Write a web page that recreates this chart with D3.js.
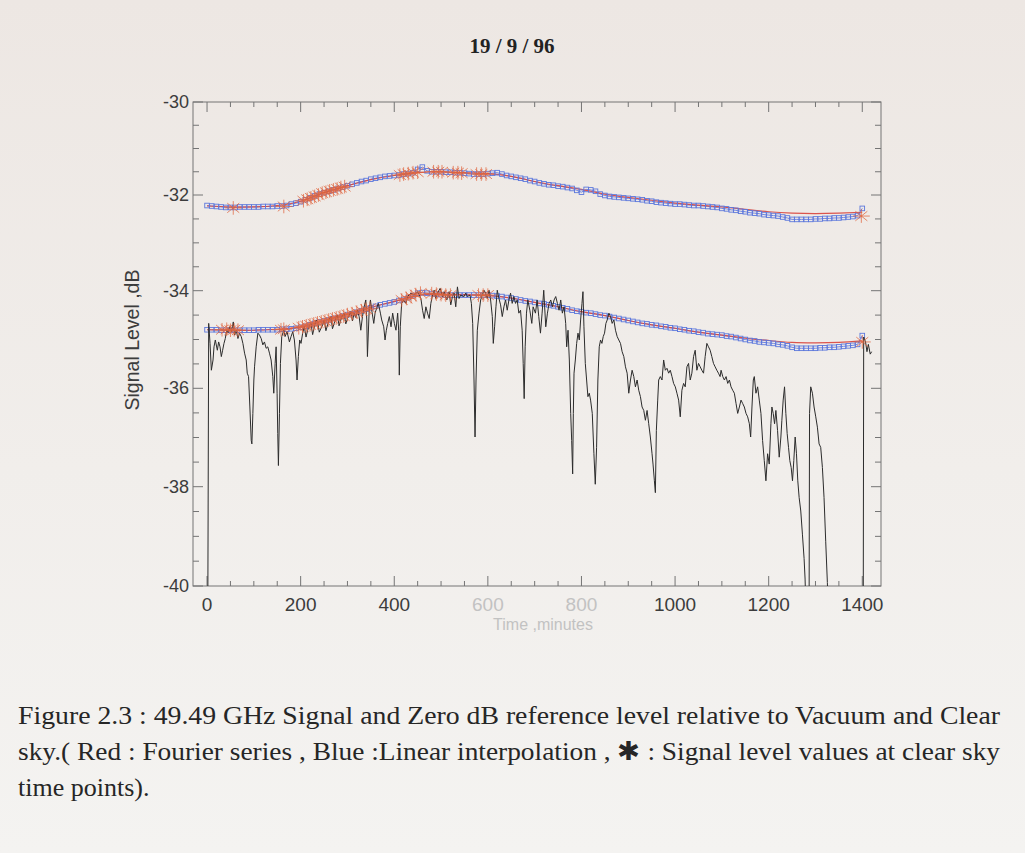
<!DOCTYPE html>
<html>
<head>
<meta charset="utf-8">
<script src="https://cdn.jsdelivr.net/npm/d3@7"></script>
<style>
  html, body { margin: 0; padding: 0; background: #f1eeeb; }
  svg { display: block; }
</style>
</head>
<body>
<div id="chart"></div>
<script>
// ---- data ----
// reference levels, sampled every 10 minutes (blue squares / linear interpolation)
const refTimes = d3.range(0, 1401, 10);
const upperRef = [
  -32.22,-32.23,-32.24,-32.25,-32.26,-32.26,-32.26,-32.25,-32.25,-32.25,
  -32.25,-32.25,-32.24,-32.24,-32.24,-32.23,-32.23,-32.22,-32.19,-32.17,
  -32.14,-32.10,-32.06,-32.02,-31.98,-31.95,-31.92,-31.89,-31.86,-31.83,
  -31.80,-31.77,-31.74,-31.71,-31.69,-31.66,-31.64,-31.62,-31.60,-31.59,
  -31.58,-31.57,-31.55,-31.54,-31.52,-31.45,-31.40,-31.48,-31.50,-31.50,
  -31.50,-31.51,-31.51,-31.52,-31.52,-31.53,-31.54,-31.55,-31.55,-31.55,
  -31.54,-31.53,-31.52,-31.55,-31.58,-31.60,-31.62,-31.64,-31.66,-31.69,
  -31.71,-31.74,-31.76,-31.78,-31.79,-31.81,-31.82,-31.84,-31.86,-31.90,
  -31.94,-31.88,-31.89,-31.92,-31.98,-32.01,-32.03,-32.04,-32.05,-32.06,
  -32.07,-32.08,-32.09,-32.10,-32.12,-32.13,-32.15,-32.16,-32.17,-32.18,
  -32.19,-32.19,-32.20,-32.21,-32.22,-32.22,-32.23,-32.24,-32.25,-32.26,
  -32.28,-32.29,-32.31,-32.32,-32.34,-32.35,-32.37,-32.38,-32.39,-32.41,
  -32.42,-32.43,-32.44,-32.46,-32.48,-32.51,-32.51,-32.51,-32.51,-32.51,
  -32.50,-32.50,-32.49,-32.49,-32.48,-32.48,-32.47,-32.46,-32.45,-32.43,
  -32.28
];
const lowerRef = [
  -34.80,-34.80,-34.80,-34.81,-34.81,-34.81,-34.81,-34.81,-34.81,-34.81,
  -34.81,-34.80,-34.80,-34.80,-34.80,-34.80,-34.79,-34.79,-34.78,-34.77,
  -34.75,-34.73,-34.70,-34.67,-34.64,-34.62,-34.60,-34.57,-34.55,-34.52,
  -34.49,-34.47,-34.44,-34.41,-34.38,-34.35,-34.32,-34.29,-34.27,-34.25,
  -34.23,-34.20,-34.18,-34.14,-34.10,-34.05,-34.04,-34.05,-34.06,-34.07,
  -34.08,-34.09,-34.09,-34.09,-34.09,-34.09,-34.09,-34.09,-34.09,-34.09,
  -34.09,-34.10,-34.11,-34.12,-34.14,-34.15,-34.17,-34.19,-34.21,-34.22,
  -34.24,-34.26,-34.27,-34.29,-34.31,-34.33,-34.35,-34.37,-34.40,-34.42,
  -34.43,-34.45,-34.46,-34.48,-34.50,-34.51,-34.53,-34.55,-34.57,-34.59,
  -34.61,-34.63,-34.65,-34.67,-34.68,-34.70,-34.71,-34.73,-34.74,-34.76,
  -34.77,-34.79,-34.80,-34.82,-34.83,-34.85,-34.86,-34.88,-34.89,-34.90,
  -34.91,-34.93,-34.94,-34.96,-34.98,-35.00,-35.02,-35.03,-35.05,-35.06,
  -35.07,-35.08,-35.10,-35.11,-35.13,-35.16,-35.18,-35.18,-35.18,-35.18,
  -35.18,-35.17,-35.17,-35.16,-35.16,-35.15,-35.14,-35.13,-35.12,-35.10,
  -34.92
];

// Fourier series fits (red), every 50 minutes
const fitTimes = [0,50,100,150,200,250,300,350,400,450,500,550,600,650,700,
  750,800,850,900,950,1000,1050,1100,1150,1200,1250,1300,1350,1400];
const upperFit = [-32.23,-32.25,-32.25,-32.22,-32.13,-31.95,-31.80,-31.67,-31.58,
  -31.52,-31.50,-31.52,-31.54,-31.60,-31.71,-31.80,-31.88,-31.98,-32.05,-32.11,
  -32.17,-32.21,-32.25,-32.30,-32.35,-32.38,-32.39,-32.38,-32.36];
const lowerFit = [-34.80,-34.81,-34.81,-34.79,-34.74,-34.61,-34.48,-34.34,-34.22,
  -34.10,-34.07,-34.08,-34.10,-34.15,-34.24,-34.33,-34.43,-34.51,-34.61,-34.70,
  -34.77,-34.85,-34.91,-34.97,-35.02,-35.06,-35.07,-35.06,-35.03];

// signal level values at clear sky time points (asterisks)
const upperStars = [[56,-32.27],[164,-32.24],[206,-32.12],[214,-32.09],[222,-32.06],
  [230,-32.03],[238,-32.00],[246,-31.96],[254,-31.94],[262,-31.91],[270,-31.89],
  [278,-31.87],[286,-31.84],[294,-31.82],[412,-31.57],[420,-31.55],[430,-31.54],
  [440,-31.52],[450,-31.51],[484,-31.50],[494,-31.50],[502,-31.50],[526,-31.52],
  [536,-31.52],[544,-31.53],[576,-31.55],[586,-31.55],[596,-31.55],[1398,-32.44]];
const lowerStars = [[32,-34.80],[42,-34.79],[50,-34.81],[58,-34.80],[66,-34.81],
  [158,-34.80],[164,-34.79],[196,-34.76],[204,-34.74],[212,-34.72],[220,-34.70],
  [228,-34.68],[236,-34.66],[244,-34.64],[252,-34.62],[260,-34.60],[268,-34.58],
  [276,-34.56],[284,-34.54],[292,-34.52],[300,-34.49],[310,-34.47],[320,-34.44],
  [330,-34.41],[340,-34.38],[348,-34.36],[416,-34.19],[426,-34.16],[436,-34.12],
  [446,-34.08],[456,-34.05],[480,-34.06],[490,-34.07],[500,-34.08],[510,-34.09],
  [520,-34.09],[580,-34.09],[590,-34.09],[600,-34.09],[1400,-35.05]];

// 49.49 GHz signal (black)
const sigT = [1.5,3.5,6.4,9.2,12.8,14.9,17.7,22.0,24.8,27.7,30.5,33.3,36.2,39.0,41.9,
  44.7,48.2,51.8,56.1,58.9,62.4,66.0,69.5,73.1,76.6,80.2,83.7,85.9,88.7,91.5,94.4,
  95.8,97.9,100.0,101.5,105.0,108.6,112.1,115.7,119.2,122.7,126.3,129.8,133.4,136.9,
  140.5,142.6,145.5,147.6,149.7,151.1,152.5,154.7,156.8,159.6,163.9,166.7,171.0,
  176.0,179.5,183.1,186.6,190.2,192.3,195.1,198.0,200.8,204.3,207.9,211.5,215.0,
  218.6,222.1,225.6,229.2,232.7,236.3,239.8,243.4,247.0,250.5,254.0,257.6,261.0,
  264.6,268.0,271.7,275.0,278.8,282.0,285.9,289.0,293.0,296.5,300.1,303.6,307.2,
  310.7,314.3,318.0,321.4,325.0,328.5,332.1,335.6,339.2,341.3,342.7,346.2,349.1,
  351.9,356.2,359.0,363.3,366.1,370.4,373.2,377.5,380.3,383.1,386.0,389.5,393.1,
  396.6,400.2,403.7,407.3,409.4,410.8,412.9,415.8,420.0,425.0,428.5,435.6,442.7,
  449.8,456.9,460.5,464.0,467.6,471.1,474.7,478.2,481.8,485.3,488.9,492.4,498.1,
  503.0,506.6,512.3,517.2,520.8,524.3,527.9,531.4,535.0,538.5,542.1,549.2,552.7,
  556.3,561.9,564.8,567.6,570.4,572.6,574.7,577.5,581.1,584.6,588.2,591.7,595.3,
  598.8,602.4,605.9,609.5,611.6,614.4,617.3,620.1,623.7,627.2,630.8,634.3,637.8,
  641.4,645.0,648.5,652.0,655.6,659.1,662.7,666.2,669.8,673.3,675.5,677.6,679.7,
  682.5,685.4,689.7,693.9,696.7,701.7,705.3,708.8,712.4,715.9,719.4,723.7,727.3,
  730.8,734.4,737.9,741.5,745.0,748.6,752.1,755.7,759.2,762.8,766.3,768.4,771.3,
  774.1,777.0,779.1,781.2,782.6,784.1,786.9,789.7,792.6,795.4,798.2,801.1,803.2,
  805.3,808.2,811.0,813.8,816.7,819.5,823.1,826.6,829.5,832.3,835.1,838.0,840.8,
  843.7,846.5,849.3,852.2,855.0,858.6,862.1,865.6,869.2,872.7,876.3,879.8,883.4,
  886.9,890.5,894.0,897.6,901.1,904.7,908.2,911.8,915.3,918.9,922.4,926.0,929.5,
  933.1,936.6,940.2,943.7,947.2,950.8,952.9,955.8,957.9,960.0,962.9,965.0,968.5,
  972.1,975.6,979.2,982.7,986.3,989.8,993.4,996.9,1000.5,1004.0,1007.6,1011.1,
  1014.6,1018.2,1021.7,1025.3,1028.8,1032.4,1035.9,1039.5,1043.0,1046.6,1050.1,
  1053.7,1057.2,1060.8,1064.3,1067.9,1071.4,1075.0,1078.5,1082.1,1085.6,1089.2,
  1092.7,1096.2,1098.3,1101.9,1105.4,1109.0,1112.5,1116.1,1119.6,1123.2,1126.7,
  1130.3,1133.8,1137.4,1140.9,1144.5,1148.0,1151.6,1155.1,1158.7,1161.5,1164.3,
  1167.2,1169.3,1172.8,1176.4,1179.9,1183.5,1187.0,1190.6,1194.1,1197.7,1201.2,
  1204.8,1206.9,1209.7,1212.6,1215.4,1219.0,1222.5,1226.1,1228.2,1231.0,1233.9,
  1236.7,1239.5,1242.4,1245.2,1248.1,1250.9,1253.7,1256.6,1259.4,1262.2,1265.1,
  1268.6,1272.2,1275.7,1277.8,1279.2,1286.4,1287.3,1289.9,1293.5,1297.0,1300.6,
  1304.1,1307.7,1311.2,1314.8,1318.3,1321.9,1325.4,1326.8,1402.0,1403.0,1407.0,
  1410.0,1413.0,1417.0,1420.0];
const sigV = [-41,-34.67,-35.08,-35.63,-35.42,-35.15,-35.01,-35.22,-35.05,-35.15,-35.35,
  -35.22,-35.08,-34.98,-34.81,-34.87,-34.74,-34.84,-34.64,-34.91,-34.81,-34.98,-34.87,
  -34.94,-35.08,-35.28,-35.42,-35.69,-35.76,-36.38,-37.06,-37.13,-36.51,-35.83,-35.56,
  -35.15,-34.87,-34.91,-34.98,-35.11,-35.05,-35.18,-35.15,-35.28,-35.42,-35.76,-36.10,
  -35.49,-35.15,-36.10,-36.92,-37.57,-36.51,-35.49,-34.94,-34.81,-34.94,-34.84,-35.05,
  -34.94,-34.84,-35.01,-35.42,-35.83,-35.35,-35.01,-35.08,-34.87,-34.74,-34.95,-34.81,
  -34.72,-34.67,-34.90,-34.74,-34.60,-34.64,-34.85,-34.77,-34.70,-34.60,-34.82,-34.70,
  -34.58,-34.53,-34.78,-34.67,-34.55,-34.50,-34.72,-34.60,-34.52,-34.46,-34.68,-34.57,
  -34.50,-34.43,-34.62,-34.46,-34.55,-34.40,-34.53,-34.81,-34.53,-34.33,-34.19,-34.60,
  -35.35,-34.46,-34.19,-34.40,-34.67,-34.46,-34.33,-34.26,-34.46,-34.60,-34.74,-35.01,
  -34.81,-34.67,-34.53,-34.74,-34.46,-34.67,-34.81,-34.46,-34.81,-35.73,-34.74,-34.26,
  -34.19,-34.26,-34.12,-34.05,-34.09,-34.02,-34.16,-34.40,-34.57,-34.33,-34.46,-34.57,
  -34.26,-34.09,-33.99,-34.16,-34.05,-33.95,-34.12,-34.02,-34.19,-34.02,-34.29,-34.12,
  -34.05,-34.33,-33.92,-34.16,-34.09,-34.12,-34.05,-34.12,-34.09,-34.26,-34.67,-35.83,
  -36.99,-35.83,-34.81,-34.46,-34.19,-34.09,-33.99,-34.05,-34.16,-33.99,-34.19,-34.53,
  -35.08,-34.74,-34.33,-33.99,-34.16,-34.29,-34.53,-34.33,-34.19,-34.40,-34.19,-34.05,
  -34.26,-34.12,-34.26,-34.19,-34.46,-34.40,-34.81,-35.49,-36.21,-35.15,-34.46,-34.19,
  -34.40,-34.67,-34.33,-34.46,-34.19,-34.53,-34.87,-34.46,-33.99,-34.74,-34.46,-34.26,
  -34.19,-34.33,-34.19,-34.12,-34.26,-34.40,-34.19,-34.46,-34.33,-34.67,-35.15,-34.81,
  -35.42,-36.51,-37.06,-37.74,-36.51,-35.69,-35.42,-35.08,-34.87,-35.01,-34.60,-34.26,
  -34.02,-34.74,-35.49,-35.83,-36.17,-36.10,-36.24,-36.51,-37.33,-37.95,-37.20,-35.83,
  -35.15,-35.01,-35.08,-34.94,-34.87,-34.67,-34.60,-34.46,-34.53,-34.67,-34.60,-34.81,
  -34.94,-35.01,-35.08,-35.25,-35.35,-35.56,-35.69,-36.10,-35.83,-35.63,-35.76,-35.97,
  -35.83,-36.04,-36.17,-36.38,-36.45,-36.65,-36.45,-36.72,-36.99,-37.33,-37.54,-37.88,
  -38.12,-36.86,-36.24,-35.83,-35.76,-35.83,-35.42,-35.63,-35.59,-35.69,-35.63,-35.76,
  -35.90,-35.97,-36.10,-36.24,-36.58,-36.04,-35.90,-35.97,-35.56,-35.49,-35.83,-35.69,
  -35.35,-35.22,-35.63,-35.49,-35.56,-35.63,-35.69,-35.35,-35.08,-35.15,-35.22,-35.35,
  -35.49,-35.56,-35.63,-35.69,-35.76,-35.63,-35.76,-35.83,-35.76,-35.90,-35.83,-35.97,
  -36.04,-36.10,-36.31,-36.51,-36.38,-36.24,-36.31,-36.38,-36.51,-36.58,-36.72,-36.99,
  -36.38,-35.83,-35.76,-36.10,-35.97,-36.24,-36.51,-37.06,-37.47,-37.88,-37.33,-37.54,
  -36.72,-36.38,-36.51,-36.72,-36.45,-36.86,-37.40,-36.99,-36.65,-36.24,-35.97,-36.51,
  -36.92,-37.20,-37.47,-37.61,-37.88,-37.47,-36.99,-37.33,-37.88,-38.22,-38.49,-38.97,
  -39.45,-39.86,-40.34,-40.34,-36.51,-35.97,-36.10,-36.38,-36.58,-36.79,-37.13,-37.20,
  -37.61,-38.22,-39.11,-39.93,-40.34,-41,-34.95,-35.05,-35.25,-35.10,-35.30,-35.25];

const yTicks = [-30, -32, -34, -36, -38, -40];
const xTicks = [0, 200, 400, 600, 800, 1000, 1200, 1400];
const fadedX = [600, 800];

if (sigT.length !== sigV.length) {
  throw new Error("signal lengths differ: " + sigT.length + " vs " + sigV.length);
}

// ---- layout ----
const W = 1025, H = 853;
const pLeft = 193, pRight = 881, pTop = 102, pBottom = 586;

const svg = d3.select("#chart").append("svg")
  .attr("width", W).attr("height", H);

const defs = svg.append("defs");
const grad = defs.append("linearGradient").attr("id", "paper")
  .attr("x1", 0).attr("y1", 0).attr("x2", 0).attr("y2", 1);
grad.append("stop").attr("offset", "0%").attr("stop-color", "#ede7e3");
grad.append("stop").attr("offset", "55%").attr("stop-color", "#f1eeeb");
grad.append("stop").attr("offset", "100%").attr("stop-color", "#f4f3f1");
svg.append("rect").attr("width", W).attr("height", H).attr("fill", "url(#paper)");

defs.append("clipPath").attr("id", "plot")
  .append("rect").attr("x", pLeft).attr("y", pTop)
  .attr("width", pRight - pLeft).attr("height", pBottom - pTop);

// scales (y is slightly non-uniform, following the photographed page)
const x = d3.scaleLinear().domain([-30, 1440]).range([pLeft, pRight]);
const y = d3.scaleLinear()
  .domain([-30, -32, -34, -36, -38, -40])
  .range([102, 195, 290.7, 388.3, 486.7, 586]);

// title
svg.append("text")
  .attr("x", 512).attr("y", 53)
  .attr("text-anchor", "middle")
  .attr("font-family", "Liberation Serif, serif")
  .attr("font-weight", "bold")
  .attr("font-size", 21)
  .attr("fill", "#222")
  .text("19 / 9 / 96");

// frame and ticks
const axisColor = "#747474";
svg.append("rect")
  .attr("x", pLeft).attr("y", pTop)
  .attr("width", pRight - pLeft).attr("height", pBottom - pTop)
  .attr("fill", "none").attr("stroke", axisColor).attr("stroke-width", 1);

const ticks = svg.append("g").attr("stroke", axisColor).attr("stroke-width", 1);
d3.range(-40, -29.9, 0.5).forEach(v => {
  const major = Math.abs(v % 2) < 1e-6;
  const len = major ? 10 : 6;
  ticks.append("line").attr("x1", pLeft).attr("x2", pLeft + len)
    .attr("y1", y(v)).attr("y2", y(v));
  ticks.append("line").attr("x1", pRight).attr("x2", pRight - len)
    .attr("y1", y(v)).attr("y2", y(v));
});
d3.range(0, 1401, 50).forEach(t => {
  const major = t % 200 === 0;
  const len = major ? 10 : 5;
  ticks.append("line").attr("x1", x(t)).attr("x2", x(t))
    .attr("y1", pBottom).attr("y2", pBottom - len);
  ticks.append("line").attr("x1", x(t)).attr("x2", x(t))
    .attr("y1", pTop).attr("y2", pTop + len);
});

// tick labels
const labelFont = "Liberation Sans, Arial, sans-serif";
svg.append("g").selectAll("text").data(yTicks).join("text")
  .attr("x", 189).attr("y", d => y(d) + 6)
  .attr("text-anchor", "end")
  .attr("font-family", labelFont).attr("font-size", 18)
  .attr("fill", "#3c3c3c")
  .text(d => d);

svg.append("g").selectAll("text").data(xTicks).join("text")
  .attr("x", d => x(d)).attr("y", 611)
  .attr("text-anchor", "middle")
  .attr("font-family", labelFont).attr("font-size", 19)
  .attr("fill", d => fadedX.includes(d) ? "#c2c2c2" : "#3c3c3c")
  .text(d => d);

svg.append("text")
  .attr("x", 543).attr("y", 630)
  .attr("text-anchor", "middle")
  .attr("font-family", labelFont).attr("font-size", 16)
  .attr("fill", "#c2c2c2")
  .text("Time ,minutes");

svg.append("text")
  .attr("transform", "translate(139,340) rotate(-90)")
  .attr("text-anchor", "middle")
  .attr("font-family", labelFont).attr("font-size", 19.5)
  .attr("fill", "#3c3c3c")
  .text("Signal Level ,dB");

// plot contents
const plot = svg.append("g").attr("clip-path", "url(#plot)");

const refLine = d3.line().x((d, i) => x(refTimes[i])).y(d => y(d));
const fitLine = d3.line().x((d, i) => x(fitTimes[i])).y(d => y(d)).curve(d3.curveNatural);

function star(cx, cy, r) {
  let p = "";
  for (let k = 0; k < 4; k++) {
    const a = k * Math.PI / 4;
    const dx = Math.cos(a) * r, dy = Math.sin(a) * r * 0.8;
    p += `M${cx - dx},${cy - dy}L${cx + dx},${cy + dy}`;
  }
  return p;
}

[[upperRef, upperFit], [lowerRef, lowerFit]].forEach(([ref, fit]) => {
  plot.append("path").attr("d", refLine(ref))
    .attr("fill", "none").attr("stroke", "#6f84e2").attr("stroke-width", 1);
  plot.append("path").attr("d", fitLine(fit))
    .attr("fill", "none").attr("stroke", "#d8443c").attr("stroke-width", 1.2)
    .attr("opacity", 0.9);
  plot.append("g").selectAll("rect").data(ref).join("rect")
    .attr("x", (d, i) => x(refTimes[i]) - 2.3)
    .attr("y", d => y(d) - 2.3)
    .attr("width", 4.6).attr("height", 4.6)
    .attr("fill", "none").attr("stroke", "#5d78dc").attr("stroke-width", 0.9);
});

plot.append("path")
  .attr("d", d3.line().x((d, i) => x(sigT[i])).y(d => y(d))(sigV))
  .attr("fill", "none").attr("stroke", "#2c2c2c").attr("stroke-width", 1)
  .attr("stroke-linejoin", "round");

[upperStars, lowerStars].forEach(stars => {
  plot.append("g").selectAll("path").data(stars).join("path")
    .attr("d", d => star(x(d[0]), y(d[1]), 8.5))
    .attr("fill", "none").attr("stroke", "#e0663f")
    .attr("stroke-width", 1).attr("opacity", 0.75);
});

// caption
const caption = [
  "Figure 2.3 : 49.49 GHz Signal and Zero dB reference level relative to Vacuum and Clear",
  "sky.( Red : Fourier series , Blue :Linear interpolation , \u2731 : Signal level values at clear sky",
  "time points)."
];
const capY = [724, 760, 796];
svg.append("g").selectAll("text").data(caption).join("text")
  .attr("x", 18).attr("y", (d, i) => capY[i])
  .attr("font-family", "Liberation Serif, serif")
  .attr("font-size", 26)
  .attr("fill", "#262626")
  .each(function (d, i) {
    if (i < 2) d3.select(this).attr("textLength", 982).attr("lengthAdjust", "spacingAndGlyphs");
  })
  .text(d => d);
</script>
</body>
</html>
